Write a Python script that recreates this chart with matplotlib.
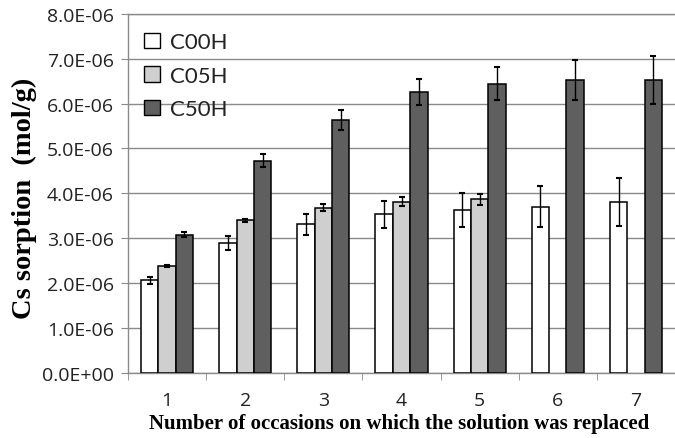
import matplotlib
matplotlib.use("Agg")
import matplotlib.pyplot as plt
import numpy as np
from matplotlib.ticker import FuncFormatter, FixedLocator
from matplotlib.patches import Patch

categories = ["1", "2", "3", "4", "5", "6", "7"]
c00h = [2.06e-6, 2.90e-6, 3.31e-6, 3.53e-6, 3.63e-6, 3.70e-6, 3.81e-6]
c00h_err = [0.07e-6, 0.16e-6, 0.24e-6, 0.31e-6, 0.38e-6, 0.46e-6, 0.53e-6]
c05h = [2.38e-6, 3.40e-6, 3.68e-6, 3.81e-6, 3.87e-6, np.nan, np.nan]
c05h_err = [0.02e-6, 0.04e-6, 0.08e-6, 0.10e-6, 0.12e-6, np.nan, np.nan]
c50h = [3.08e-6, 4.73e-6, 5.64e-6, 6.25e-6, 6.44e-6, 6.53e-6, 6.53e-6]
c50h_err = [0.06e-6, 0.14e-6, 0.22e-6, 0.29e-6, 0.37e-6, 0.45e-6, 0.53e-6]
series_names = ["C00H", "C05H", "C50H"]

fig = plt.figure(figsize=(6.75, 4.39), dpi=100)
ax = fig.add_axes([128/675, 1-374/439, 1-128/675, (374-14.7)/439])

x = np.arange(len(categories))
w = 0.222
colors = ["#ffffff", "#cfcfcf", "#5f5f5f"]
vals = [c00h, c05h, c50h]
errs = [c00h_err, c05h_err, c50h_err]
for i, (v, e, c) in enumerate(zip(vals, errs, colors)):
    ax.bar(x + (i-1)*w, v, width=w, color=c, edgecolor="black", linewidth=1.1, zorder=3,
           yerr=e, error_kw=dict(ecolor="black", elinewidth=1.0, capsize=2.5, capthick=1.5, zorder=4))

ax.set_ylim(0, 8e-6)
ax.set_xlim(-0.5, -0.5 + 547/79.2)
ax.yaxis.set_major_locator(FixedLocator(np.arange(0, 8.01e-6, 1e-6)))
ax.yaxis.set_major_formatter(FuncFormatter(lambda v, p: f"{v:.1E}"))
ax.grid(axis="y", color="#8a8a8a", linewidth=1.0, zorder=0)
ax.set_axisbelow(True)

ax.set_xticks(x)
ax.set_xticklabels(categories)
ax.set_xticks(np.arange(-0.5, len(categories)+0.5, 1), minor=True)
ax.tick_params(axis="x", which="major", length=0, pad=13)
ax.tick_params(axis="x", which="minor", length=5, color="#8a8a8a", direction="out")
ax.tick_params(axis="y", which="major", length=5, color="#8a8a8a", direction="out", pad=5)

for lab in ax.get_xticklabels() + ax.get_yticklabels():
    lab.set_fontfamily("Open Sans")
    lab.set_fontsize(14)
    lab.set_color("#222222")

for s in ["right"]:
    ax.spines[s].set_visible(False)
for s in ["left", "bottom", "top"]:
    ax.spines[s].set_color("#8a8a8a")
    ax.spines[s].set_linewidth(1.0)

ax.set_ylabel("Cs sorption  (mol/g)", family="Liberation Serif", fontweight="bold", fontsize=20.5)
ax.yaxis.set_label_coords(-0.166, 0.49)
ax.set_xlabel("Number of occasions on which the solution was replaced",
              family="Liberation Serif", fontweight="bold", fontsize=15)
ax.xaxis.set_label_coords(0.495, -0.11)

handles = [Patch(facecolor=c, edgecolor="black", linewidth=1.0) for c in colors]
leg = ax.legend(handles, series_names, loc="upper left", bbox_to_anchor=(0.005, 0.985),
                frameon=False, prop={"family": "Lato", "size": 16},
                handlelength=0.7, handleheight=0.7, handletextpad=0.45, labelspacing=0.6,
                borderaxespad=0.2)
for t in leg.get_texts():
    t.set_color("#222222")

fig.savefig("out.png", dpi=100)
